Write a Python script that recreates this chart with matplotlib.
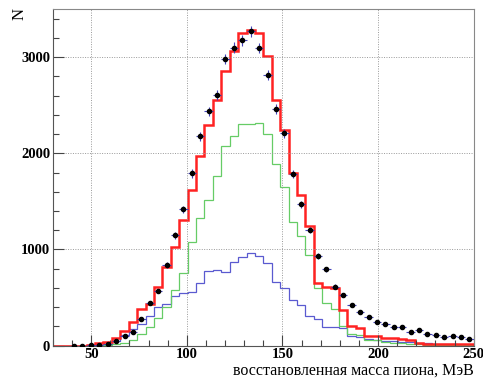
import matplotlib
matplotlib.use("Agg")
import matplotlib.pyplot as plt
from matplotlib.ticker import MultipleLocator
import numpy as np

plt.rcParams['font.family'] = ['Liberation Serif', 'DejaVu Serif']

# binning: 50 bins of 4.4 MeV from 30 to 250
x_lo, x_hi, n_bins = 30, 250, 50
edges = np.linspace(x_lo, x_hi, n_bins + 1)
centers = 0.5 * (edges[:-1] + edges[1:])

# total (red)
red = [0, 0, 0, 0, 10, 30, 42, 83, 156, 249,
       378, 433, 613, 814, 1028, 1305, 1620, 1970, 2292, 2552,
       2853, 3060, 3250, 3278, 3250, 3008, 2558, 2247, 1790, 1565,
       1243, 650, 610, 600, 370, 200, 185, 105, 100, 80,
       75, 70, 60, 25, 20, 20, 15, 20, 20, 20]
# green component
green = [0, 0, 0, 0, 1, 3, 8, 17, 30, 59,
         121, 197, 284, 405, 578, 758, 1078, 1323, 1513, 1765,
         2074, 2178, 2309, 2302, 2316, 2199, 1887, 1651, 1288, 1140,
         945, 596, 445, 385, 205, 120, 110, 60, 55, 35,
         30, 25, 20, 15, 10, 10, 8, 8, 5, 5]
# blue component
blue = [0, 0, 0, 1, 2, 5, 20, 50, 110, 175,
        225, 310, 400, 430, 520, 545, 561, 648, 776, 786,
        770, 872, 918, 966, 935, 855, 665, 596, 480, 420,
        308, 274, 197, 197, 180, 105, 90, 65, 60, 50,
        45, 40, 35, 30, 25, 20, 18, 15, 12, 10]
# data points (bins 2..49)
data = [1, 1, 2, 4, 16, 48, 98, 145,
        280, 445, 568, 840, 1146, 1416, 1790, 2178, 2436, 2607,
        2978, 3099, 3175, 3271, 3095, 2816, 2460, 2209, 1786, 1468,
        1201, 935, 793, 613, 526, 423, 353, 298, 250, 225,
        197, 197, 142, 163, 121, 111, 94, 104, 94, 73]
data_first_bin = 2

fig = plt.figure(figsize=(4.83, 3.80), dpi=100)
ax = fig.add_axes([0.1097, 0.0903, 0.871, 0.886])

ax.stairs(blue, edges, color='#5a5ad0', lw=0.9)
ax.stairs(green, edges, color='#66cc66', lw=0.9)
ax.stairs(red, edges, color='#ff2222', lw=1.8)

dx = centers[data_first_bin:]
dy = np.array(data, dtype=float)
ax.errorbar(dx, dy, yerr=np.sqrt(dy), xerr=(x_hi - x_lo) / n_bins / 2,
            fmt='o', ms=3, mfc='black', mec='black', ecolor='#4444bb',
            elinewidth=0.8, capsize=0, zorder=5)

ax.set_xlim(x_lo, x_hi)
ax.set_ylim(0, 3500)
ax.xaxis.set_major_locator(MultipleLocator(50))
ax.xaxis.set_minor_locator(MultipleLocator(10))
ax.yaxis.set_major_locator(MultipleLocator(1000))
ax.yaxis.set_minor_locator(MultipleLocator(200))
ax.tick_params(which='both', direction='in', top=False, right=False,
               colors='#444444', labelcolor='black', width=0.8)
ax.tick_params(which='major', length=8, labelsize=10.5, pad=2)
ax.tick_params(which='minor', length=4)
for lab in ax.get_xticklabels() + ax.get_yticklabels():
    lab.set_fontweight('bold')

ax.grid(True, which='major', color='#999999', ls=(0, (1, 1.5)), lw=0.7)

for side in ['top', 'right']:
    ax.spines[side].set_color('#888888')
for side in ['left', 'bottom']:
    ax.spines[side].set_color('#555555')

fig.text(0.98, 0.014, 'восстановленная масса пиона, МэВ', ha='right',
         va='baseline', fontsize=11.5)
fig.text(0.04, 0.978, 'N', rotation=90, ha='center', va='top', fontsize=12)

fig.savefig('out.png', dpi=100)
